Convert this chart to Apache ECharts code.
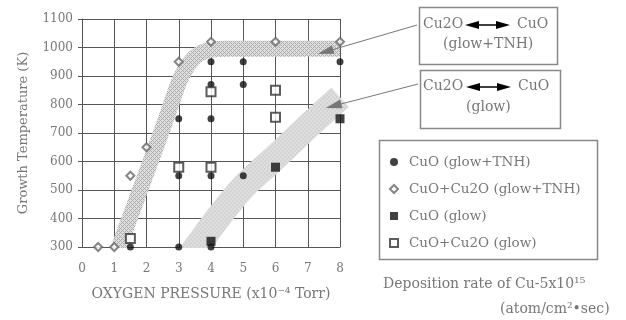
<!DOCTYPE html>
<html>
<head>
<meta charset="utf-8">
<script src="https://cdn.jsdelivr.net/npm/echarts@6/dist/echarts.min.js"></script>
<style>html,body{margin:0;padding:0;background:#fff;}#c{width:626px;height:320px;}</style>
</head>
<body>
<div id="c"></div>
<script>
// ---- data ----
var xTicks = [0, 1, 2, 3, 4, 5, 6, 7, 8];
var yTicks = [300, 400, 500, 600, 700, 800, 900, 1000, 1100];
var cuoGlowTnh = [[1.5,300],[3,300],[4,300],[3,550],[4,550],[5,550],[3,750],[4,750],[4,870],[5,870],[4,950],[5,950],[8,950]];
var mixGlowTnh = [[0.5,300],[1,300],[1.5,550],[2,650],[3,950],[4,1020],[6,1020],[8,1020]];
var cuoGlow = [[4,320],[6,580],[8,750]];
var mixGlow = [[1.5,330],[3,580],[4,580],[4,845],[6,850],[6,755]];
var bandTnh = [[1.02,260],[1.15,300],[1.8,500],[2.45,700],[2.85,830],[3.05,890],[3.3,940],[3.6,975],[4.0,992],[4.5,996],[8,996]];
var bandGlow = [[3.22,250],[3.55,300],[4.2,400],[5.0,510],[6.0,615],[7.0,722],[8.0,825]];
var arrowTnh = [7.55, 985];
var arrowGlow = [7.8, 795];
var seriesNames = ['CuO (glow+TNH)', 'CuO+Cu2O (glow+TNH)', 'CuO (glow)', 'CuO+Cu2O (glow)'];

var FONT = 'DejaVu Serif';
var TXT = '#777';
var F14 = '14px "DejaVu Serif"';

function hatch() {
  var c = document.createElement('canvas');
  c.width = 4; c.height = 4;
  var g = c.getContext('2d');
  g.fillStyle = '#e0e0e0'; g.fillRect(0,0,4,4);
  g.fillStyle = '#ababab';
  g.fillRect(0,0,1,1); g.fillRect(2,2,1,1); g.fillRect(1,1,1,1); g.fillRect(3,3,1,1);
  g.fillRect(3,1,1,1); g.fillRect(1,3,1,1);
  return c;
}
function hatch2() {
  var c = document.createElement('canvas');
  c.width = 4; c.height = 4;
  var g = c.getContext('2d');
  g.fillStyle = '#dedede'; g.fillRect(0,0,4,4);
  g.fillStyle = '#d4d4d4';
  g.fillRect(0,0,2,2); g.fillRect(2,2,2,2);
  return c;
}

var chart = echarts.init(document.getElementById('c'), null, {renderer: 'canvas'});
var option = {
  animation: false,
  backgroundColor: '#fff',
  textStyle: {fontFamily: FONT},
  grid: {left: 82, right: 286, top: 19, bottom: 73},
  xAxis: {
    type: 'value', min: xTicks[0], max: xTicks[xTicks.length-1], interval: 1,
    name: 'OXYGEN PRESSURE (x10\u207B\u2074 Torr)', nameLocation: 'middle', nameGap: 40,
    nameTextStyle: {color: TXT, fontFamily: FONT, fontSize: 14},
    axisLine: {show: true, lineStyle: {color: '#555'}},
    axisTick: {show: false},
    axisLabel: {color: TXT, fontFamily: FONT, fontSize: 12, margin: 16},
    splitLine: {show: true, lineStyle: {color: '#555', width: 1}}
  },
  yAxis: {
    type: 'value', min: yTicks[0], max: yTicks[yTicks.length-1], interval: 100,
    name: 'Growth Temperature (K)', nameLocation: 'middle', nameGap: 52, nameRotate: 90,
    nameTextStyle: {color: TXT, fontFamily: FONT, fontSize: 13},
    axisLine: {show: true, lineStyle: {color: '#555'}},
    axisTick: {show: true, length: 4, inside: false, lineStyle: {color: '#555'}},
    axisLabel: {color: TXT, fontFamily: FONT, fontSize: 12, margin: 9, formatter: function (v) { return String(v); }},
    splitLine: {show: true, lineStyle: {color: '#555', width: 1}}
  },
  legend: {
    orient: 'vertical', left: 384, top: 150, itemWidth: 8, itemHeight: 8, itemGap: 13,
    textStyle: {color: TXT, fontFamily: FONT, fontSize: 13.5, padding: [0,0,0,6], lineHeight: 14},
    data: [
      {name: seriesNames[0], icon: 'circle'},
      {name: seriesNames[1], icon: 'emptyDiamond'},
      {name: seriesNames[2], icon: 'rect'},
      {name: seriesNames[3], icon: 'emptyRect'}
    ]
  },
  series: [
    {type: 'line', data: bandTnh, smooth: 0.3, symbol: 'none', silent: true, z: 1,
     lineStyle: {width: 16, cap: 'butt', join: 'round', color: {image: hatch(), repeat: 'repeat'}}},
    {type: 'line', data: bandGlow, smooth: 0.3, symbol: 'none', silent: true, z: 1,
     lineStyle: {width: 26, cap: 'butt', join: 'round', color: {image: hatch2(), repeat: 'repeat'}}},
    {type: 'line', data: [], symbol: 'none', clip: false, z: 3,
     markLine: {silent: true, symbol: ['none', 'triangle'], symbolSize: [9, 16], label: {show: false},
       lineStyle: {color: '#777', type: 'solid', width: 1},
       itemStyle: {color: '#000'},
       data: [
         [{x: 417, y: 25, symbol: 'none'}, {coord: arrowTnh, symbol: 'triangle', itemStyle: {color: '#000'}}],
         [{x: 418, y: 84, symbol: 'none'}, {coord: arrowGlow, symbol: 'triangle', itemStyle: {color: '#000'}}]
       ]}},
    {name: seriesNames[0], type: 'scatter', data: cuoGlowTnh, symbol: 'circle', symbolSize: 7, z: 5,
     itemStyle: {color: '#111'}},
    {name: seriesNames[1], type: 'scatter', data: mixGlowTnh, symbol: 'emptyDiamond', symbolSize: 8, z: 5,
     itemStyle: {color: '#666', borderWidth: 1}},
    {name: seriesNames[2], type: 'scatter', data: cuoGlow, symbol: 'rect', symbolSize: 9, z: 5,
     itemStyle: {color: '#111'}},
    {name: seriesNames[3], type: 'scatter', data: mixGlow, symbol: 'emptyRect', symbolSize: 9, z: 5,
     itemStyle: {color: '#333', borderWidth: 1}}
  ],
  graphic: [
    {type: 'rect', z: 2, shape: {x: 82, y: 248, width: 259, height: 14}, style: {fill: '#fff'}},
    {type: 'rect', left: 417, top: 5, shape: {width: 138, height: 57}, style: {fill: 'none', stroke: '#888', lineWidth: 1.5}},
    {type: 'rect', left: 418, top: 68, shape: {width: 140, height: 58}, style: {fill: 'none', stroke: '#888', lineWidth: 1.5}},
    {type: 'rect', left: 377, top: 138, shape: {width: 218, height: 119}, style: {fill: 'none', stroke: '#888', lineWidth: 1.5}},
    {type: 'text', left: 423, top: 17, style: {text: 'Cu2O', fill: TXT, font: F14}},
    {type: 'text', left: 517, top: 17, style: {text: 'CuO', fill: TXT, font: F14}},
    {type: 'text', left: 443, top: 37, style: {text: '(glow+TNH)', fill: TXT, font: F14}},
    {type: 'polygon', shape: {points: [[465,25],[479,21],[479,29]]}, style: {fill: '#000'}},
    {type: 'polygon', shape: {points: [[510,25],[496,21],[496,29]]}, style: {fill: '#000'}},
    {type: 'line', shape: {x1: 477, y1: 25, x2: 498, y2: 25}, style: {stroke: '#000', lineWidth: 1.5}},
    {type: 'text', left: 423, top: 79, style: {text: 'Cu2O', fill: TXT, font: F14}},
    {type: 'text', left: 518, top: 79, style: {text: 'CuO', fill: TXT, font: F14}},
    {type: 'text', left: 466, top: 100, style: {text: '(glow)', fill: TXT, font: F14}},
    {type: 'polygon', shape: {points: [[466,87],[480,83],[480,91]]}, style: {fill: '#000'}},
    {type: 'polygon', shape: {points: [[511,87],[497,83],[497,91]]}, style: {fill: '#000'}},
    {type: 'line', shape: {x1: 478, y1: 87, x2: 499, y2: 87}, style: {stroke: '#000', lineWidth: 1.5}},
    {type: 'text', left: 383, top: 277, style: {text: 'Deposition rate of Cu-5x10\u00B9\u2075', fill: TXT, font: F14}},
    {type: 'text', left: 500, top: 302, style: {text: '(atom/cm\u00B2\u2022sec)', fill: TXT, font: F14}}
  ]
};
chart.setOption(option);
</script>
</body>
</html>
